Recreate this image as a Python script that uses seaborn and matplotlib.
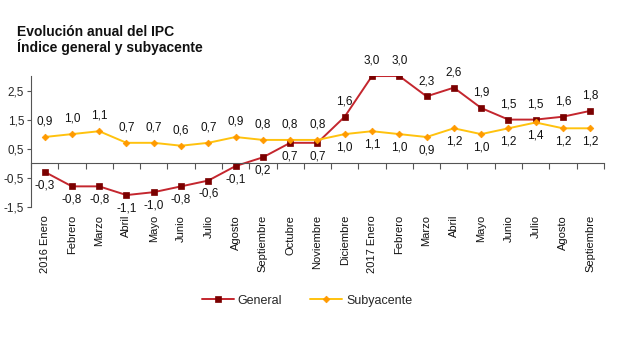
import matplotlib
matplotlib.use("Agg")
import matplotlib.pyplot as plt
import seaborn as sns
import pandas as pd
import numpy as np

months = ["2016 Enero", "Febrero", "Marzo", "Abril", "Mayo", "Junio", "Julio",
          "Agosto", "Septiembre", "Octubre", "Noviembre", "Diciembre",
          "2017 Enero", "Febrero", "Marzo", "Abril", "Mayo", "Junio", "Julio",
          "Agosto", "Septiembre"]
general = [-0.3, -0.8, -0.8, -1.1, -1.0, -0.8, -0.6, -0.1, 0.2, 0.7, 0.7, 1.6,
           3.0, 3.0, 2.3, 2.6, 1.9, 1.5, 1.5, 1.6, 1.8]
subyacente = [0.9, 1.0, 1.1, 0.7, 0.7, 0.6, 0.7, 0.9, 0.8, 0.8, 0.8, 1.0,
              1.1, 1.0, 0.9, 1.2, 1.0, 1.2, 1.4, 1.2, 1.2]
yticks = [-1.5, -0.5, 0.5, 1.5, 2.5]

sns.set_theme(style="white")
plt.rcParams["font.family"] = ["Liberation Sans", "DejaVu Sans"]

x = np.arange(len(months))
df = pd.DataFrame({"x": np.concatenate([x, x]),
                   "v": general + subyacente,
                   "serie": ["General"] * len(x) + ["Subyacente"] * len(x)})

fig = plt.figure(figsize=(6.2, 3.38), dpi=100)
ax = fig.add_axes([0.05, 0.3885, 0.924, 0.3865])

c_gen_line, c_gen_mk = "#C4262E", "#7B0000"
c_sub_line, c_sub_mk = "#FFC20E", "#FF9A00"

sns.lineplot(data=df[df.serie == "General"], x="x", y="v", ax=ax, color=c_gen_line,
             lw=1.4, marker="s", markersize=4.6, markerfacecolor=c_gen_mk,
             markeredgecolor=c_gen_mk, markeredgewidth=0.5, label="General")
sns.lineplot(data=df[df.serie == "Subyacente"], x="x", y="v", ax=ax, color=c_sub_line,
             lw=1.4, marker="D", markersize=3.4, markerfacecolor=c_sub_mk,
             markeredgecolor=c_sub_mk, markeredgewidth=0.5, label="Subyacente")

fmt = lambda v: f"{v:.1f}".replace(".", ",")
for i in x:
    g, s = general[i], subyacente[i]
    if i <= 10:
        go, so = -9.5, 11
    else:
        go, so = 11, -9.5
    ax.annotate(fmt(g), (i, g), xytext=(0, go), textcoords="offset points",
                ha="center", va="center", fontsize=8.5, color="#111111")
    ax.annotate(fmt(s), (i, s), xytext=(0, so), textcoords="offset points",
                ha="center", va="center", fontsize=8.5, color="#111111")

ax.set_xlim(-0.5, len(months) - 0.5)
ax.set_ylim(-1.5, 3.0)
ax.set_yticks(yticks)
ax.set_yticklabels([fmt(v) for v in yticks], fontsize=8.5)
ax.tick_params(axis="y", which="major", direction="out", length=3, width=0.8,
               color="#555555", left=True, pad=2)

# x axis at zero with boundary ticks
ax.spines["bottom"].set_position(("data", 0))
ax.set_xticks(np.arange(-0.5, len(months), 1.0))
ax.set_xticklabels([])
ax.tick_params(axis="x", which="major", direction="out", length=4, width=0.8,
               color="#555555", bottom=True)
for sp in ["top", "right"]:
    ax.spines[sp].set_visible(False)
for sp in ["left", "bottom"]:
    ax.spines[sp].set_color("#555555")
    ax.spines[sp].set_linewidth(0.8)
ax.set_xlabel("")
ax.set_ylabel("")

for i, m in enumerate(months):
    ax.text(i, -1.78, m, rotation=90, ha="center", va="top", fontsize=8,
            color="#111111")

leg = ax.legend(loc="center", ncol=2, frameon=False, fontsize=9,
                handlelength=2.6, columnspacing=2.2, handletextpad=0.3,
                bbox_to_anchor=(0.495, 0.11), bbox_transform=fig.transFigure)

fig.text(0.028, 0.905, "Evolución anual del IPC", fontsize=10, fontweight="bold",
         va="center", ha="left", color="#111111")
fig.text(0.028, 0.86, "Índice general y subyacente", fontsize=10, fontweight="bold",
         va="center", ha="left", color="#111111")

fig.savefig("out.png", dpi=100, facecolor="white")
